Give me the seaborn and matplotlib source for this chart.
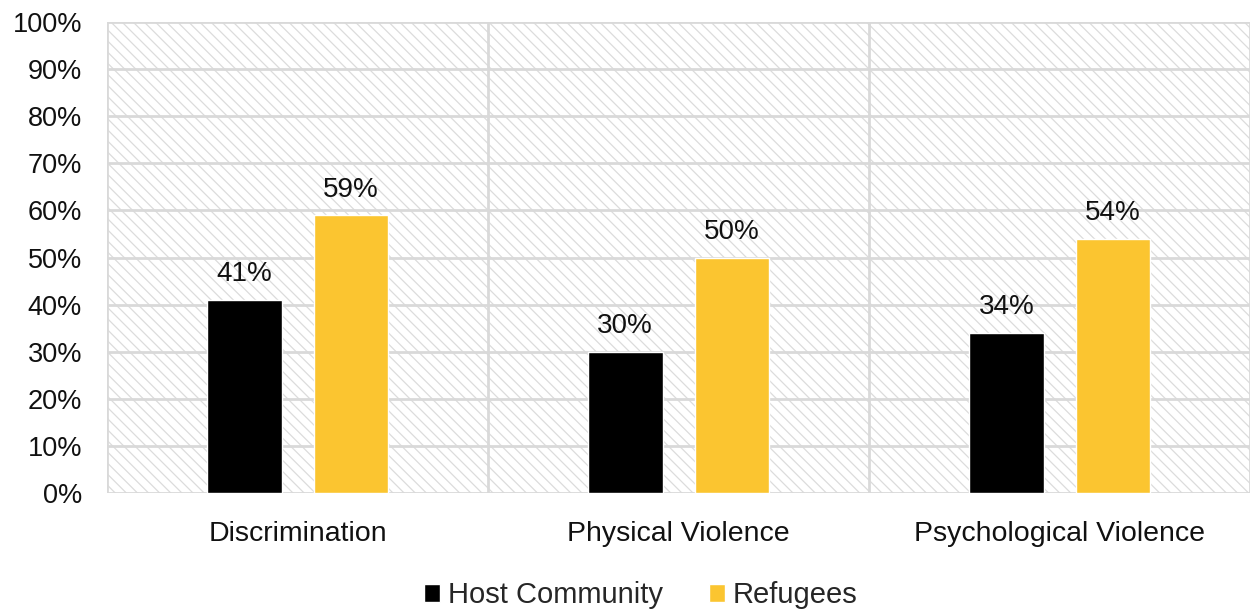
import matplotlib
matplotlib.use("Agg")
import matplotlib.pyplot as plt
from matplotlib.patches import Rectangle
from matplotlib.ticker import FuncFormatter
import pandas as pd
import seaborn as sns

categories = ["Discrimination", "Physical Violence", "Psychological Violence"]
groups = ["Host Community", "Refugees"]
host_values = [41, 30, 34]
refugee_values = [59, 50, 54]
y_ticks = [0, 10, 20, 30, 40, 50, 60, 70, 80, 90, 100]

colors = {"Host Community": "#000000", "Refugees": "#FBC530"}
grid_color = "#d9d9d9"

df = pd.DataFrame({
    "category": categories * 2,
    "group": [groups[0]] * 3 + [groups[1]] * 3,
    "value": host_values + refugee_values,
})

sns.set_theme(style="white")
plt.rcParams["font.family"] = ["Liberation Sans", "DejaVu Sans"]
plt.rcParams["hatch.linewidth"] = 0.9

fig = plt.figure(figsize=(12.52, 6.11), dpi=100)
ax = fig.add_axes([0.0855, 0.193, 0.913, 0.771])

# hatched plot background
ax.patch.set_visible(False)
ax.add_patch(Rectangle((0, 0), 1, 1, transform=ax.transAxes, facecolor="white",
                       edgecolor="#dcdcdc", hatch="\\\\\\", lw=0, zorder=0))

sns.barplot(data=df, x="category", y="value", hue="group", order=categories,
            hue_order=groups, palette=colors, width=0.56, gap=0.3,
            saturation=1, ax=ax, zorder=3, legend=True)

for container in ax.containers:
    ax.bar_label(container, fmt="%d%%", padding=9, fontsize=20, color="#111111")

ax.set_ylim(0, 100)
ax.set_xlim(-0.5, 2.5)
ax.set_yticks(y_ticks)
ax.yaxis.set_major_formatter(FuncFormatter(lambda v, p: f"{v:.0f}%"))
ax.tick_params(axis="y", length=0, pad=18, labelsize=19.5, labelcolor="#111111")
ax.tick_params(axis="x", length=0, pad=20, labelsize=20.5, labelcolor="#111111")
ax.set_xlabel("")
ax.set_ylabel("")

for y in y_ticks:
    ax.axhline(y, color=grid_color, lw=2, zorder=1)
for x in [-0.5, 0.5, 1.5, 2.5]:
    ax.axvline(x, color=grid_color, lw=2, zorder=1)
for s in ax.spines.values():
    s.set_visible(False)

handles, labels = ax.get_legend_handles_labels()
ax.legend(handles, labels, loc="center", bbox_to_anchor=(0.467, -0.217),
          ncol=2, frameon=False, fontsize=21, handlelength=0.55, handleheight=0.55,
          handletextpad=0.25, columnspacing=1.6, borderaxespad=0)

fig.savefig("out.png", dpi=100)
